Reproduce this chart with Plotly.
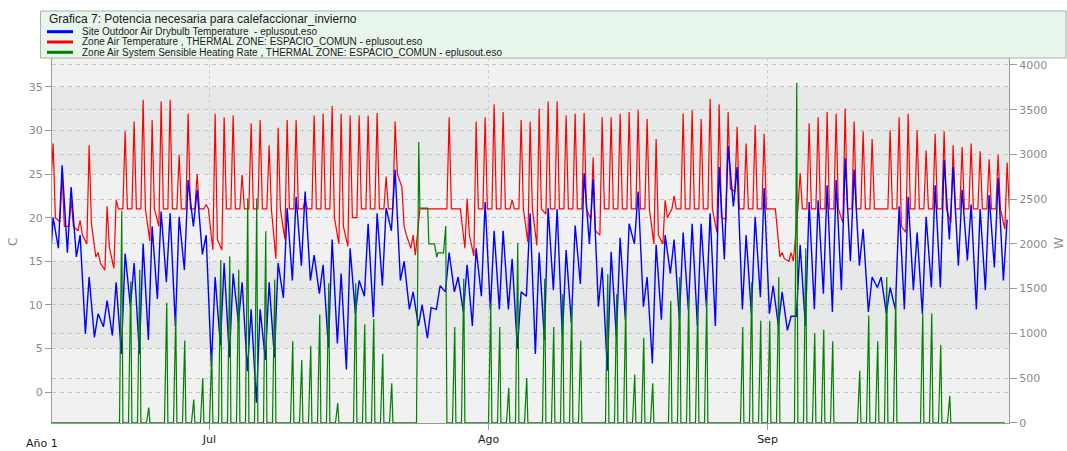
import pandas as pd
import plotly.graph_objects as go

# one value per day, 13 Jun .. 27 Sep
start_day = "2002-06-13"

# Site Outdoor Air Drybulb Temperature (C): early-morning low, afternoon high
outdoor_low = [13.5, 16.5, 16, 15.5, 6.7, 6.3, 7.5, 6.5, 4.4, 9.8,
               4.4, 6, 10.7, 12.6, 7.6, 14, 19, 15.8, 3, 5.4,
               4, 8, 2.4, -1.2, 3.7, 4, 10.8, 12.8, 14.5, 12.8,
               11.3, 5.1, 5.6, 2.6, 9, 11, 8.6, 12.2, 18.5, 12.8,
               9.5, 7.6, 6.2, 9.5, 11.5, 11.5, 9.2, 7.6, 11, 9.4,
               9.5, 9.5, 5, 11, 4.4, 6, 11.7, 6.3, 7.9, 12.4,
               17, 9.8, 2.5, 6.3, 8.3, 17, 9.8, 3.3, 8.3, 13.6,
               8.3, 9.4, 7.6, 9.8, 7.6, 15.2, 21.3, 9.5, 9, 10.9,
               9, 7.6, 7.1, 8.7, 7.6, 9.5, 11.3, 9.2, 11.7, 15,
               14.5, 9.2, 12, 9, 9.5, 9.5, 11.7, 9, 12, 12,
               17.5, 14.5, 15.1, 9.5, 11.7, 14.3, 12.8]
outdoor_high = [20, 26, 23.5, 18, 13.2, 9, 10.5, 12.6, 15.9, 14.8,
                17, 19, 20.7, 20.5, 20.1, 24.3, 23.2, 18, 13.2, 14.8,
                13.6, 12.6, 9.5, 9.5, 12.6, 14.8, 21.1, 22.4, 23, 15.7,
                14.6, 17.5, 13.6, 16.5, 12.8, 19.3, 20.5, 21.1, 25.5, 15,
                11.5, 10, 9.7, 12.2, 16, 13.2, 14.6, 16.5, 21.8, 18.5,
                18.5, 15.3, 11.5, 20.5, 16, 21.1, 21, 16.3, 19.1, 25.1,
                24.4, 14.3, 16.1, 17.7, 19.3, 23, 13.2, 16.9, 18, 17.5,
                18.3, 19.3, 19.3, 20.5, 25.8, 28.2, 25.8, 18, 20.1, 23.4,
                12.2, 11.5, 8.7, 16.9, 21.8, 22, 23.7, 24.3, 26.8, 25.5,
                18.7, 13.2, 13.2, 12, 21.3, 22.4, 18.3, 20.1, 23.7, 26.6,
                25.8, 23.2, 21.5, 21, 22.6, 24.5, 19.8]

# Zone Air Temperature (C): morning, afternoon peak, evening
zone_morning = [24, 19.5, 19, 18.5, 17, 15.5, 14, 14.2, 21, 21,
                21, 17.3, 19, 21, 21, 21, 21, 21, 16.3, 16.3,
                21, 21, 21, 21, 21, 15.3, 17.5, 21, 21, 21,
                21, 21, 17, 16.7, 20, 21, 21, 21, 21, 23.5,
                16.5, 21, 21, 21, 21, 21, 16.5, 15.6, 21, 21,
                21, 21, 21, 17.2, 16.8, 20.4, 21, 21, 21, 21,
                19.8, 18, 21, 21, 21, 21, 21, 17, 17, 21,
                21, 21, 21, 21, 18.3, 19.8, 23, 21, 21, 21,
                21, 15.5, 15, 21, 21, 21, 21, 21, 19.4, 21,
                21, 21, 21, 21, 21, 18.3, 21, 21, 21, 21,
                19.4, 21, 21, 21, 21, 21, 18.7]
zone_peak = [28.5, 25, 22, 19.7, 28.3, 16, 21.3, 22, 29.9, 31,
             33.5, 31.2, 33.3, 33.5, 27.2, 31.9, 25, 21.5, 31.9, 31.5,
             31.7, 24.9, 30.8, 31.2, 28.3, 30.3, 31.2, 31.2, 22, 31.7,
             31.9, 32.8, 31.9, 31.7, 31.7, 31.7, 32, 24.7, 31, 19,
             18, 21, 21, 21, 31.5, 21, 22.2, 31, 31.5, 33,
             32.1, 22, 31.2, 31, 32.5, 33.3, 33.3, 31.7, 31.9, 32,
             26.9, 31.5, 31.5, 31.9, 32.1, 32.3, 31.3, 29, 22, 22.5,
             31.9, 32.3, 31.3, 33.6, 33, 32.1, 30.4, 28.5, 30.6, 29.6,
             21, 16, 16, 25.1, 30.8, 31.5, 32.1, 31.9, 32.5, 31,
             29.9, 29, 21, 30, 31.5, 31.9, 30, 27.7, 29.6, 29.9,
             28.3, 28.1, 28.5, 27.6, 26.7, 27.2, 26.3]
zone_evening = [20, 19, 19, 18, 19.4, 14.8, 16.6, 21, 21, 21,
                21, 21, 21, 21, 21, 21, 21, 21, 17.5, 21,
                21, 21, 21, 21, 21, 21, 21, 21, 21, 21,
                21, 20, 19, 20, 21, 21, 21, 21, 25, 18,
                15.7, 21, 21, 21, 21, 21, 18, 21, 21, 21,
                21, 21, 21, 21, 21, 21, 21, 21, 21, 21,
                18.5, 21, 21, 21, 21, 21, 21, 18, 20, 21,
                21, 21, 21, 21, 20, 23.3, 21, 21, 21, 21,
                21, 15.3, 15, 21, 21, 21, 21, 21, 21, 21,
                21, 21, 21, 21, 19, 21, 21, 21, 21, 21,
                21, 21, 21, 21, 21, 21, 21]

# Zone Air System Sensible Heating Rate (W): morning peak, level kept through the night
heat_peak = [0, 0, 0, 0, 0, 0, 0, 0, 2370, 1580,
             1710, 170, 0, 1340, 1190, 920, 260, 500, 780, 1820,
             1860, 1710, 2510, 2510, 2140, 1600, 0, 910, 700, 860,
             1210, 1560, 220, 0, 1560, 1100, 1160, 770, 440, 0,
             0, 3140, 2400, 1850, 2200, 1070, 1610, 0, 0, 1330,
             1070, 390, 2010, 500, 0, 1610, 1070, 1440, 1310, 920,
             0, 0, 1660, 1440, 1310, 540, 950, 440, 0, 1360,
             1630, 1420, 1310, 1380, 0, 0, 0, 1070, 1570, 1140,
             1140, 1630, 0, 3800, 1950, 1000, 1040, 910, 0, 0,
             580, 1200, 910, 1630, 1440, 0, 0, 1220, 1220, 870,
             300, 0, 0, 0, 0, 0, 0]
heat_night = [0] * 41 + [2400, 2000, 1900] + [0] * 63

month_ticks = ["2002-07-01", "2002-08-01", "2002-09-01"]
month_labels = ["Jul", "Ago", "Sep"]

series_names = [
    "Site Outdoor Air Drybulb Temperature  - eplusout.eso",
    "Zone Air Temperature , THERMAL ZONE: ESPACIO_COMUN - eplusout.eso",
    "Zone Air System Sensible Heating Rate , THERMAL ZONE: ESPACIO_COMUN - eplusout.eso",
]
series_colors = ["#0000ff", "#ff0000", "#008000"]

days = pd.date_range(start_day, periods=len(outdoor_low), freq="D")
HOUR = pd.Timedelta(hours=1)


def daily_points(hours, columns):
    t, v = [], []
    for i, day in enumerate(days):
        for h, col in zip(hours, columns):
            t.append(day + h * HOUR)
            v.append(col[i])
    return t, v


night_before = [0] + heat_night[:-1]
t_out, v_out = daily_points([5, 15], [outdoor_low, outdoor_high])
t_zone, v_zone = daily_points([9, 15, 21], [zone_morning, zone_peak, zone_evening])
t_heat, v_heat = daily_points([0, 6, 9], [night_before, heat_peak, heat_night])

W, H = 1067, 451
L, R, T, B = 52, 58, 58, 28


def px(x):
    return (x - L) / (W - L - R)


def py(y):
    return (H - B - y) / (H - T - B)


fig = go.Figure()
fig.add_trace(go.Scatter(x=t_zone, y=v_zone, mode="lines", name=series_names[1],
                         line=dict(color=series_colors[1], width=1.2)))
fig.add_trace(go.Scatter(x=t_out, y=v_out, mode="lines", name=series_names[0],
                         line=dict(color=series_colors[0], width=1.4)))
fig.add_trace(go.Scatter(x=t_heat, y=v_heat, mode="lines", name=series_names[2], yaxis="y2",
                         line=dict(color=series_colors[2], width=1.2)))

shapes = []
# alternating background bands
for lo, hi in [(25, 35), (5, 15)]:
    shapes.append(dict(type="rect", xref="paper", yref="y", x0=0, x1=1, y0=lo, y1=hi,
                       fillcolor="#e7e8e8", line=dict(width=0), layer="below"))
# title / legend box
shapes.append(dict(type="rect", xref="paper", yref="paper", x0=px(40.5), x1=px(1066),
                   y0=py(58), y1=py(11), fillcolor="#e8f5eb",
                   line=dict(color="#a9b1a9", width=1)))
annotations = [dict(text="Grafica 7: Potencia necesaria para calefaccionar_invierno",
                    xref="paper", yref="paper", x=px(47), y=py(19.5), xanchor="left",
                    yanchor="middle", showarrow=False,
                    font=dict(family="Liberation Sans, Arial", size=12, color="#1a1a1a"))]
for i, (name, col) in enumerate(zip(series_names, series_colors)):
    yy = 31.7 + 10.3 * i
    shapes.append(dict(type="line", xref="paper", yref="paper", x0=px(47), x1=px(73),
                       y0=py(yy), y1=py(yy), line=dict(color=col, width=3)))
    annotations.append(dict(text=name, xref="paper", yref="paper", x=px(80), y=py(yy),
                            xanchor="left", yanchor="middle", showarrow=False,
                            font=dict(family="Liberation Sans, Arial", size=10, color="#1a1a1a")))
annotations += [
    dict(text="C", xref="paper", yref="paper", x=px(13), y=py(242), textangle=-90,
         xanchor="center", yanchor="middle", showarrow=False,
         font=dict(family="DejaVu Sans", size=12, color="#8a8a8a")),
    dict(text="W", xref="paper", yref="paper", x=px(1059), y=py(243), textangle=-90,
         xanchor="center", yanchor="middle", showarrow=False,
         font=dict(family="DejaVu Sans", size=12, color="#8a8a8a")),
    dict(text="Año 1", xref="paper", yref="paper", x=px(24), y=py(443), xanchor="left",
         yanchor="middle", showarrow=False,
         font=dict(family="DejaVu Sans", size=11, color="#1a1a1a")),
]

grid = dict(showgrid=True, gridcolor="#c6c6c6", griddash="4px,4px", gridwidth=1)
fig.update_layout(
    template="none",
    width=W, height=H, autosize=False,
    margin=dict(l=L, r=R, t=T, b=B, pad=0),
    paper_bgcolor="#ffffff", plot_bgcolor="#f0f1f0",
    font=dict(family="DejaVu Sans", size=11, color="#8a8a8a"),
    showlegend=False,
    xaxis=dict(type="date", range=["2002-06-13 12:00", "2002-09-27 20:00"],
               tickvals=month_ticks, ticktext=month_labels, automargin=False,
               showgrid=True, gridcolor="#cfcfcf", griddash="dot",
               ticks="outside", ticklen=6, tickcolor="#999999",
               showline=True, linecolor="#9a9a9a", zeroline=False,
               tickfont=dict(family="DejaVu Sans", size=11, color="#1a1a1a")),
    yaxis=dict(range=[-3.52, 38.29], tick0=0, dtick=5, ticks="outside", ticklen=6,
               tickcolor="#999999", showline=True, linecolor="#9a9a9a", zeroline=False,
               automargin=False, tickfont=dict(color="#8a8a8a"), **grid),
    yaxis2=dict(range=[-3, 4078], tick0=0, dtick=500, overlaying="y", side="right",
                ticks="outside", ticklen=7, tickcolor="#999999", showline=True,
                linecolor="#9a9a9a", zeroline=False, automargin=False,
                tickfont=dict(color="#8a8a8a"), **grid),
    shapes=shapes,
    annotations=annotations,
)

fig.write_html("out.html", config={"displayModeBar": False},
               post_script="document.body.style.margin='0';document.body.style.overflow='hidden';")
